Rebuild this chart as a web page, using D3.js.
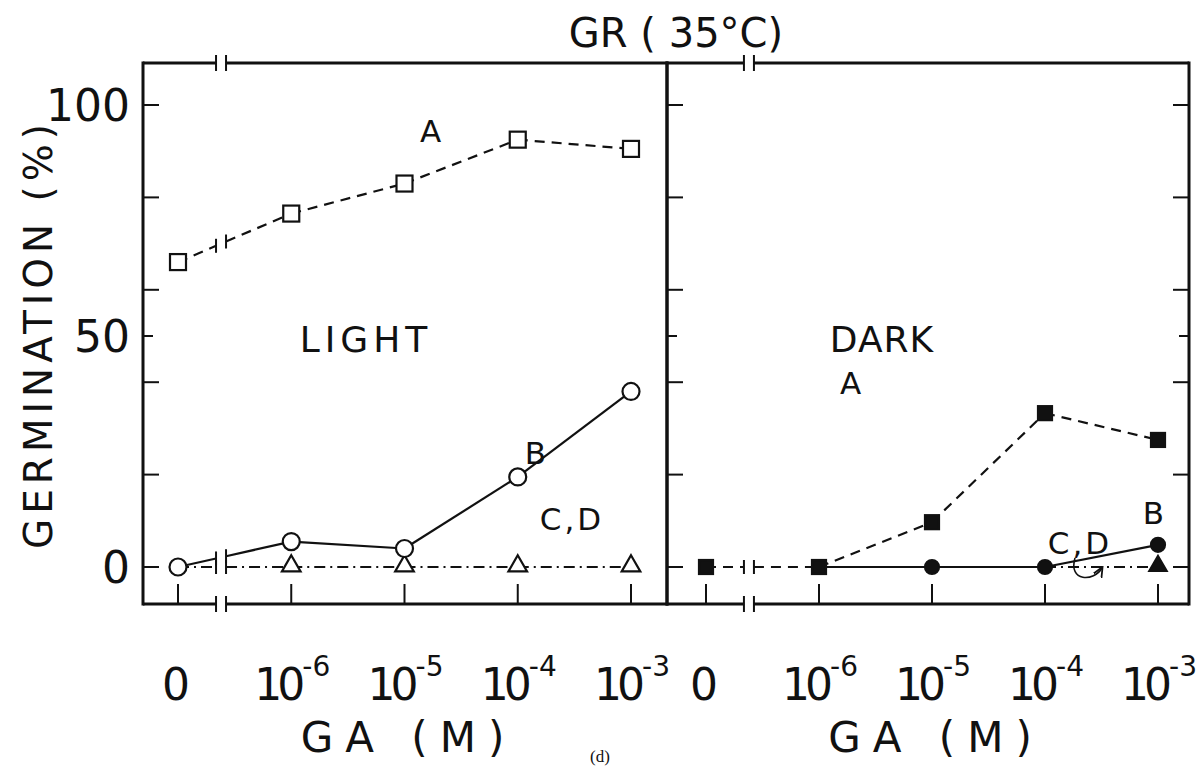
<!DOCTYPE html>
<html>
<head>
<meta charset="utf-8">
<script src="https://cdn.jsdelivr.net/npm/d3@7"></script>
<style>
  body { margin: 0; background: #fff; }
  text { font-family: "DejaVu Sans", sans-serif; fill: #111; }
</style>
</head>
<body>
<div id="chart"></div>
<script>
// GR (35 C) germination vs GA concentration, light / dark panels

const doses = ["0", "1e-6", "1e-5", "1e-4", "1e-3"];
const doseExp = [null, "-6", "-5", "-4", "-3"];
const yTicks = [0, 20, 40, 50, 60, 80, 100];
const yLabels = [0, 50, 100];

// LIGHT
const lightA = [66, 76.5, 83, 92.5, 90.5];
const lightB = [0, 5.5, 4, 19.5, 38];
const lightCD = [0, 0, 0, 0, 0];
// DARK
const darkA = [0, 0, 9.7, 33.3, 27.5];
const darkB = [null, 0, 0, 0, 4.8];
const darkCD = [null, null, null, 0, 0];

let width = 1201, height = 774;
let frameTop = 63, frameBottom = 604;

let svg = d3.select("#chart").append("svg")
    .attr("width", width)
    .attr("height", height)

let y = d3.scaleLinear().domain([0, 100]).range([567, 105]);

let panels = [
    { name: "LIGHT", left: 143, right: 667, x0: 178, x1: 631, A: lightA, B: lightB, CD: lightCD, filled: false, lx: 366, ls: 5 },
    { name: "DARK", left: 667, right: 1189, x0: 706, x1: 1158, A: darkA, B: darkB, CD: darkCD, filled: true, lx: 882, ls: 1 }
]

function splitBreak(x, xa, ya, xb, yb) {
    // segments from index 0 to 1 cross the axis break
    let bc = x(doses[0]) + 0.38 * x.step();
    let b1 = bc - 5, b2 = bc + 5;
    let t1 = (b1 - xa) / (xb - xa), t2 = (b2 - xa) / (xb - xa);
    return [[xa, ya, b1, ya + t1 * (yb - ya)], [b2, ya + t2 * (yb - ya), xb, yb]];
}

function drawSeries(g, x, vals, dash) {
    for (let i = 0; i < vals.length - 1; i++) {
        if (vals[i] == null || vals[i + 1] == null) continue;
        let xa = x(doses[i]), ya = y(vals[i]), xb = x(doses[i + 1]), yb = y(vals[i + 1]);
        let segs = i == 0 ? splitBreak(x, xa, ya, xb, yb) : [[xa, ya, xb, yb]];
        segs.forEach((s, k) => {
            g.append("line")
                .attr("x1", s[0]).attr("y1", s[1]).attr("x2", s[2]).attr("y2", s[3])
                .attr("stroke", "#111").attr("stroke-width", 2.2)
                .attr("stroke-dasharray", dash)
            if (segs.length > 1) {
                let bx = k == 0 ? s[2] : s[0], by = k == 0 ? s[3] : s[1];
                g.append("line")
                    .attr("x1", bx).attr("x2", bx).attr("y1", by - 7).attr("y2", by + 7)
                    .attr("stroke", "#111").attr("stroke-width", 2)
            }
        })
    }
}

panels.forEach(p => {
    let g = svg.append("g");
    let x = d3.scalePoint().domain(doses).range([p.x0, p.x1]);
    let bc = x(doses[0]) + 0.38 * x.step();

    // frame with broken top / bottom axis
    [frameTop, frameBottom].forEach(yy => {
        g.append("line").attr("x1", p.left).attr("x2", bc - 5).attr("y1", yy).attr("y2", yy)
            .attr("stroke", "#111").attr("stroke-width", 3)
        g.append("line").attr("x1", bc + 5).attr("x2", p.right).attr("y1", yy).attr("y2", yy)
            .attr("stroke", "#111").attr("stroke-width", 3)
        ;[bc - 5, bc + 5].forEach(bx => {
            g.append("line").attr("x1", bx).attr("x2", bx).attr("y1", yy - 8).attr("y2", yy + 8)
                .attr("stroke", "#111").attr("stroke-width", 2)
        })
    })
    ;[p.left, p.right].forEach(xx => {
        g.append("line").attr("x1", xx).attr("x2", xx).attr("y1", frameTop - 1.5).attr("y2", frameBottom + 1.5)
            .attr("stroke", "#111").attr("stroke-width", 3)
    })

    // y ticks, inward
    yTicks.forEach(t => {
        let len = t == 50 ? 10 : 16;
        g.append("line").attr("x1", p.left).attr("x2", p.left + len).attr("y1", y(t)).attr("y2", y(t))
            .attr("stroke", "#111").attr("stroke-width", 2)
        if (p.name == "DARK") {
            g.append("line").attr("x1", p.right - len).attr("x2", p.right).attr("y1", y(t)).attr("y2", y(t))
                .attr("stroke", "#111").attr("stroke-width", 2)
        }
    })

    // x ticks, upward from bottom
    doses.forEach((d, i) => {
        g.append("line").attr("x1", x(d)).attr("x2", x(d)).attr("y1", frameBottom).attr("y2", frameBottom - 20)
            .attr("stroke", "#111").attr("stroke-width", 2)
        let t = g.append("text")
            .attr("x", i == 0 ? x(d) - 2 : x(d) + 1)
            .attr("y", 700)
            .attr("text-anchor", "middle")
            .style("font-size", "44px")
        if (i == 0) {
            t.text("0")
        } else {
            t.append("tspan").style("letter-spacing", "-5px").text("10")
            t.append("tspan").attr("dx", 2).attr("dy", -24).style("font-size", "28px").text(doseExp[i])
        }
    })

    svg.append("text")
        .attr("x", (p.x0 + p.x1) / 2 + 4)
        .attr("y", 752)
        .attr("text-anchor", "middle")
        .style("font-size", "42px")
        .style("letter-spacing", "12px")
        .text("GA (M)")

    svg.append("text")
        .attr("x", p.lx)
        .attr("y", 352)
        .attr("text-anchor", "middle")
        .style("font-size", "36px")
        .style("letter-spacing", p.ls + "px")
        .text(p.name)

    // data lines
    let dl = svg.append("g");
    drawSeries(dl, x, p.CD, "11,5,2,5");
    drawSeries(dl, x, p.B, null);
    drawSeries(dl, x, p.A, "10,7");

    // markers: C,D triangles, skipped where a B circle sits on the same point
    let tri = d3.symbol().type(d3.symbolTriangle).size(p.filled ? 130 : 150);
    p.CD.forEach((v, i) => {
        if (v == null || p.B[i] === v) return;
        dl.append("path").attr("d", tri)
            .attr("transform", "translate(" + x(doses[i]) + "," + (y(v) - 1) + ")")
            .attr("fill", p.filled ? "#111" : "#fff")
            .attr("stroke", "#111").attr("stroke-width", 2.2)
    })
    p.B.forEach((v, i) => {
        if (v == null) return;
        dl.append("circle").attr("cx", x(doses[i])).attr("cy", y(v))
            .attr("r", p.filled ? 7 : 8.5)
            .attr("fill", p.filled ? "#111" : "#fff")
            .attr("stroke", "#111").attr("stroke-width", 2.2)
    })
    p.A.forEach((v, i) => {
        let s = p.filled ? 14 : 16;
        dl.append("rect").attr("x", x(doses[i]) - s / 2).attr("y", y(v) - s / 2)
            .attr("width", s).attr("height", s)
            .attr("fill", p.filled ? "#111" : "#fff")
            .attr("stroke", "#111").attr("stroke-width", 2.2)
    })
})

// series labels
let labels = [
    ["A", 432, 142], ["B", 537, 464], ["C,D", 572, 530],
    ["A", 852, 394], ["B", 1155, 524], ["C,D", 1080, 554]
]
labels.forEach(l => {
    svg.append("text").attr("x", l[1]).attr("y", l[2])
        .attr("text-anchor", "middle")
        .style("font-size", "31px")
        .style("letter-spacing", "3px")
        .text(l[0])
})

// curved arrow under the dark C,D label
svg.append("defs").append("marker")
    .attr("id", "arr").attr("viewBox", "0 0 10 10").attr("refX", 8).attr("refY", 5)
    .attr("markerWidth", 7).attr("markerHeight", 7).attr("orient", "auto")
    .append("path").attr("d", "M0,1 L9,5 L0,9").attr("fill", "none").attr("stroke", "#111").attr("stroke-width", 1.6)
svg.append("path")
    .attr("d", "M1075,558 C1068,582 1094,582 1102,568")
    .attr("fill", "none").attr("stroke", "#111").attr("stroke-width", 1.6)
    .attr("marker-end", "url(#arr)")

// y axis labels
yLabels.forEach(t => {
    svg.append("text").attr("x", 130).attr("y", y(t) + 16)
        .attr("text-anchor", "end")
        .style("font-size", "44px")
        .text(t)
})
svg.append("text")
    .attr("transform", "translate(52,334)rotate(-90)")
    .attr("text-anchor", "middle")
    .style("font-size", "39px")
    .style("letter-spacing", "5px")
    .text("GERMINATION (%)")

// title
svg.append("text").attr("x", 676).attr("y", 47)
    .attr("text-anchor", "middle")
    .style("font-size", "40px")
    .text("GR ( 35°C)")

svg.append("text").attr("x", 600).attr("y", 762)
    .attr("text-anchor", "middle")
    .style("font-family", "'Liberation Serif', serif")
    .style("font-size", "17px")
    .text("(d)")
</script>
</body>
</html>
